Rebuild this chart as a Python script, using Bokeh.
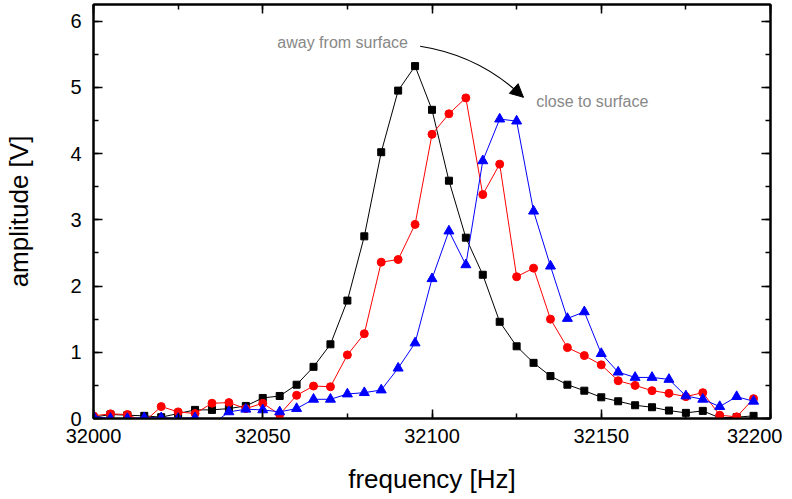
from bokeh.plotting import figure
from bokeh.models import (Range1d, LinearAxis, SingleIntervalTicker, Arrow, NormalHead,
                          ColumnDataSource, CustomJSTickFormatter)
from bokeh.core.properties import value
from bokeh.embed import file_html
from bokeh.resources import INLINE

freq = [32000 + 5 * i for i in range(40)]

away = [0.02, 0.06, 0.05, 0.04, 0.02, 0.075, 0.13, 0.13, 0.15, 0.19,
        0.31, 0.34, 0.51, 0.78, 1.12, 1.78, 2.75, 4.02, 4.95, 5.32,
        4.66, 3.59, 2.73, 2.17, 1.46, 1.09, 0.84, 0.64, 0.51, 0.42,
        0.32, 0.26, 0.20, 0.17, 0.12, 0.085, 0.115, 0.01, 0.02, 0.04]

middle = [0.04, 0.07, 0.06, -0.05, 0.18, 0.10, 0.075, 0.23, 0.24, 0.15,
          0.23, 0.06, 0.35, 0.49, 0.48, 0.96, 1.28, 2.36, 2.40, 2.93,
          4.29, 4.60, 4.84, 3.38, 3.84, 2.14, 2.27, 1.50, 1.07, 0.95,
          0.81, 0.57, 0.50, 0.42, 0.38, 0.33, 0.39, 0.05, 0.025, 0.30]

close = [0.03, 0.0, 0.0, 0.01, 0.01, 0.0, 0.01, -0.09, 0.10, 0.14,
         0.13, 0.10, 0.15, 0.29, 0.29, 0.37, 0.39, 0.43, 0.76, 1.14,
         2.11, 2.83, 2.32, 3.89, 4.52, 4.49, 3.13, 2.30, 1.51, 1.61,
         0.98, 0.70, 0.62, 0.62, 0.59, 0.34, 0.29, 0.18, 0.33, 0.26]

x_ticks_interval = 50
y_ticks_interval = 1
x_label = "frequency [Hz]"
y_label = "amplitude [V]"
note_away = "away from surface"
note_close = "close to surface"

FONT = "Liberation Sans"

p = figure(width=782, height=497, output_backend="svg", toolbar_location=None,
           x_range=Range1d(32000, 32200), y_range=Range1d(0, 6.25),
           min_border_left=93, min_border_right=12, min_border_top=4,
           min_border_bottom=79, x_axis_label=x_label, y_axis_label=y_label)
p.grid.visible = False
p.outline_line_color = "black"
p.outline_line_width = 2
p.background_fill_color = "white"
p.border_fill_color = "white"

def style_axis(ax, ticker, labels=True):
    ax.ticker = ticker
    ax.major_tick_in = 9
    ax.major_tick_out = 0
    ax.minor_tick_in = 5
    ax.minor_tick_out = 0
    ax.axis_line_width = 2
    ax.major_tick_line_width = 1.5
    ax.minor_tick_line_width = 1.5
    ax.major_label_text_font = FONT
    ax.major_label_text_font_size = "20px"
    ax.major_label_text_color = "black"
    ax.axis_label_text_font = FONT
    ax.axis_label_text_font_size = "26px"
    ax.axis_label_text_font_style = "normal"
    ax.axis_label_text_color = "black"
    if not labels:
        ax.formatter = CustomJSTickFormatter(code="return ''")

xt = SingleIntervalTicker(interval=x_ticks_interval, num_minor_ticks=2)
yt = SingleIntervalTicker(interval=y_ticks_interval, num_minor_ticks=2)
style_axis(p.xaxis[0], xt)
style_axis(p.yaxis[0], yt)
p.xaxis[0].major_label_standoff = 10
p.xaxis[0].axis_label_standoff = 18
p.yaxis[0].major_label_standoff = 12
p.yaxis[0].axis_label_standoff = 33

top = LinearAxis()
style_axis(top, SingleIntervalTicker(interval=x_ticks_interval, num_minor_ticks=2), labels=False)
p.add_layout(top, "above")
right = LinearAxis()
style_axis(right, SingleIntervalTicker(interval=y_ticks_interval, num_minor_ticks=2), labels=False)
p.add_layout(right, "right")

src = ColumnDataSource(dict(f=freq, a=away, m=middle, c=close))

p.line("f", "a", source=src, color="black", line_width=1)
p.scatter("f", "a", source=src, marker="square", size=7, color="black")
p.line("f", "m", source=src, color="red", line_width=1)
p.scatter("f", "m", source=src, marker="circle", size=8, color="red")
p.line("f", "c", source=src, color="blue", line_width=1)
p.scatter("f", "c", source=src, marker="triangle", size=10, color="blue")

# annotations
p.text(x=[32054.3], y=[5.68], text=[note_away], text_font=value(FONT),
       text_font_size="16px", text_color="#888888", text_baseline="middle",
       text_align="left")
p.text(x=[32130.8], y=[4.79], text=[note_close], text_font=value(FONT),
       text_font_size="16px", text_color="#888888", text_baseline="middle",
       text_align="left")

x0, y0 = 32096.5, 5.62
cx, cy = 32114.1, 5.48
x1, y1 = 32127.0, 4.85
p.quadratic(x0=[x0], y0=[y0], x1=[x1], y1=[y1], cx=[cx], cy=[cy],
            line_color="black", line_width=1.2)
t = 0.9
xs = (1 - t) ** 2 * x0 + 2 * (1 - t) * t * cx + t ** 2 * x1
ys = (1 - t) ** 2 * y0 + 2 * (1 - t) * t * cy + t ** 2 * y1
p.add_layout(Arrow(end=NormalHead(size=13, fill_color="black", line_color="black"),
                   x_start=xs, y_start=ys, x_end=x1, y_end=y1,
                   line_color="black", line_width=1.2))

open("out.html", "w").write(file_html(p, INLINE))
